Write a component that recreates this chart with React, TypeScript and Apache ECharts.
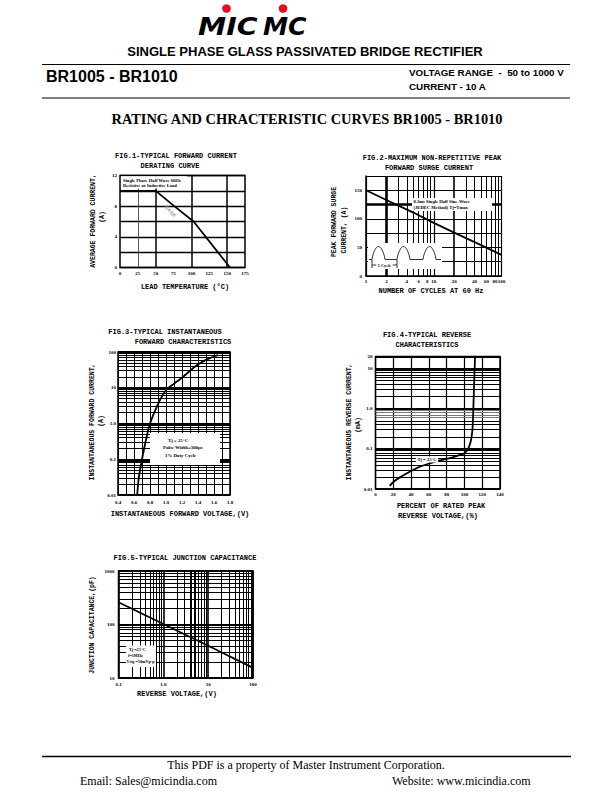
import React, { useEffect, useRef } from 'react';
import * as echarts from 'echarts';

// FIG.1 forward current derating
const fig1Temp = [0, 50, 76, 103, 154];
const fig1Current = [10, 10, 8, 6, 0];
const fig1GridX = [50, 100, 150];
// FIG.2 surge current
const fig2Cycles = [1, 2, 5, 10, 20, 50, 100];
const fig2Surge = [150, 133, 111, 93, 76, 54, 37];
const fig2Ticks = [1, 2, 4, 6, 8, 10, 20, 40, 60, 80, 100];
const fig2MinorX = [2, 3, 4, 5, 6, 7, 8, 9, 20, 30, 40, 50, 60, 70, 80, 90];
// FIG.3 forward characteristics
const fig3Voltage = [0.64, 0.66, 0.7, 0.75, 0.8, 0.9, 1.0, 1.1, 1.2, 1.3, 1.4, 1.5, 1.6, 1.65];
const fig3Current = [0.01, 0.03, 0.1, 0.35, 1, 3.5, 8.5, 13, 19, 30, 45, 60, 75, 82];
// FIG.4 reverse characteristics
const fig4Percent = [16, 20, 30, 40, 50, 60, 70, 80, 90, 100, 104, 107, 109, 110, 111, 112];
const fig4Current = [0.012, 0.015, 0.021, 0.028, 0.036, 0.043, 0.05, 0.056, 0.065, 0.078, 0.1, 0.15, 0.3, 1, 5, 20];
const fig4Ticks = [0.01, 0.1, 1, 10, 20];
// FIG.5 junction capacitance
const fig5Voltage = [0.1, 1, 10, 100];
const fig5Cap = [260, 102, 40, 15.5];

const minorSteps = [2, 3, 4, 5, 6, 7, 8, 9];
const fig3MinorY = [0.01, 0.1, 1, 10].flatMap((d) => minorSteps.map((m) => +(m * d).toPrecision(3)));
const fig4MinorY = [0.01, 0.1, 1].flatMap((d) => minorSteps.map((m) => +(m * d).toPrecision(3)));
const fig5MinorX = [0.1, 1, 10].flatMap((d) => minorSteps.map((m) => +(m * d).toPrecision(3)));
const fig5MinorY = [10, 100].flatMap((d) => minorSteps.map((m) => +(m * d).toPrecision(3)));

const MONO = '"Liberation Mono", monospace';
const SERIF = '"Liberation Serif", serif';
const SANS = '"Liberation Sans", sans-serif';

const zip = (a: number[], b: number[]) => a.map((v, i) => [v, b[i]]);

const logFmt = (v: number) => {
  if (Math.abs(v - 20) < 1e-6) return '20';
  const e = Math.round(Math.log10(v));
  if (e < 0) return v.toFixed(-e);
  if (e === 0) return '1.0';
  return String(Math.round(v));
};

const tickLabel = (margin: number, extra: any = {}) => ({
  show: true,
  fontSize: 5,
  fontWeight: 'bold',
  fontFamily: SERIF,
  color: '#000',
  margin,
  ...extra,
});

const T = (text: string, x: number, y: number, font: string, opt: any = {}) => ({
  type: 'text',
  x,
  y,
  rotation: opt.rot || 0,
  scaleX: opt.sx || 1,
  z: opt.z || 30,
  silent: true,
  style: {
    text,
    x: 0,
    y: 0,
    font,
    fill: opt.fill || '#000',
    textAlign: opt.align || 'center',
    align: opt.align || 'center',
    textVerticalAlign: 'middle',
    verticalAlign: 'middle',
    backgroundColor: opt.bg,
    padding: opt.bg ? [0.5, 1.5] : undefined,
  },
});

const R = (x: number, y: number, w: number, h: number) => ({
  type: 'rect',
  z: 20,
  silent: true,
  shape: { x, y, width: w, height: h },
  style: { fill: '#fff' },
});

const L = (x1: number, y1: number, x2: number, y2: number, w = 1.2, z = 30) => ({
  type: 'line',
  z,
  silent: true,
  shape: { x1, y1, x2, y2 },
  style: { stroke: '#000', lineWidth: w },
});

const gridSeries = (idx: number, items: any[]) => ({
  type: 'line',
  xAxisIndex: idx,
  yAxisIndex: idx,
  data: [],
  silent: true,
  z: 1,
  markLine: {
    silent: true,
    z: 1,
    symbol: ['none', 'none'],
    label: { show: false },
    emphasis: { disabled: true },
    animation: false,
    lineStyle: { color: '#000', type: 'solid', width: 1 },
    data: items,
  },
});

const curve = (idx: number, data: number[][], smooth: any = false) => ({
  type: 'line',
  xAxisIndex: idx,
  yAxisIndex: idx,
  data,
  smooth,
  symbol: 'none',
  showSymbol: false,
  silent: true,
  z: 10,
  lineStyle: { color: '#000', width: 1.8 },
});

const frame = { show: true, borderColor: '#000', borderWidth: 1.5, containLabel: false, outerBoundsMode: 'none' };
const noTick = { show: false };
const split = (w: number, color = '#000') => ({ show: true, lineStyle: { color, width: w, type: 'solid' } });

// inset waveform for FIG.2
const y0 = 259.5;
const hump = (a: number, b: number) =>
  Array.from({ length: 15 }, (_, i) => [a + ((b - a) * i) / 14, y0 - 13 * Math.pow(Math.sin((Math.PI * i) / 14), 0.7)]);
const wavePts = [[369, y0], ...hump(372, 385), ...hump(397, 410), ...hump(423, 436), [441, y0]];

const option: any = {
  animation: false,
  backgroundColor: '#fff',
  grid: [
    { left: 120, top: 175.5, width: 125, height: 92, ...frame },
    { left: 366, top: 176, width: 135.5, height: 100, show: false, containLabel: false, outerBoundsMode: 'none' },
    { left: 118, top: 352, width: 112, height: 143, ...frame },
    { left: 375.5, top: 356.5, width: 124.5, height: 132.5, ...frame },
    { left: 118.5, top: 571, width: 134.5, height: 107, ...frame },
  ],
  xAxis: [
    {
      gridIndex: 0, type: 'value', min: 0, max: 175, interval: 25,
      axisLine: { show: false }, axisTick: noTick, splitLine: { show: false },
      axisLabel: tickLabel(3),
    },
    {
      gridIndex: 1, type: 'log', logBase: 10, min: 1, max: 100,
      axisLine: { show: true, onZero: false, lineStyle: { color: '#000', width: 1.5 } },
      axisTick: noTick, splitLine: split(1.2),
      axisLabel: tickLabel(3, { customValues: fig2Ticks, formatter: (v: number) => String(Math.round(v)) }),
    },
    {
      gridIndex: 2, type: 'value', min: 0.4, max: 1.8, interval: 0.1,
      axisLine: { show: false }, axisTick: noTick, splitLine: split(1),
      axisLabel: tickLabel(5, {
        formatter: (v: number) => (Math.round(v * 10) % 2 === 0 ? v.toFixed(1) : ''),
      }),
    },
    {
      gridIndex: 3, type: 'value', min: 0, max: 140, interval: 20,
      axisLine: { show: false }, axisTick: noTick, splitLine: split(1.2),
      axisLabel: tickLabel(3),
    },
    {
      gridIndex: 4, type: 'log', logBase: 10, min: 0.1, max: 100,
      axisLine: { show: false }, axisTick: noTick, splitLine: split(1.6),
      axisLabel: tickLabel(4, { formatter: logFmt }),
    },
  ],
  yAxis: [
    {
      gridIndex: 0, type: 'value', min: 0, max: 12, interval: 2,
      axisLine: { show: false }, axisTick: noTick, splitLine: split(1.3),
      axisLabel: tickLabel(3, { formatter: (v: number) => (v % 4 === 0 ? String(v) : '') }),
    },
    {
      gridIndex: 1, type: 'value', min: 0, max: 175, interval: 25,
      axisLine: { show: true, onZero: false, lineStyle: { color: '#000', width: 1.5 } },
      axisTick: noTick, splitLine: split(1.2),
      axisLabel: tickLabel(4, { formatter: (v: number) => (v % 50 === 0 && v <= 150 ? String(v) : '') }),
    },
    {
      gridIndex: 2, type: 'log', logBase: 10, min: 0.01, max: 100,
      axisLine: { show: false }, axisTick: noTick, splitLine: split(2.2),
      axisLabel: tickLabel(2, { formatter: logFmt }),
    },
    {
      gridIndex: 3, type: 'log', logBase: 10, min: 0.01, max: 20,
      axisLine: { show: false }, axisTick: noTick, splitLine: split(2),
      axisLabel: tickLabel(3, { customValues: fig4Ticks, formatter: logFmt }),
    },
    {
      gridIndex: 4, type: 'log', logBase: 10, min: 10, max: 1000,
      axisLine: { show: false }, axisTick: noTick, splitLine: split(1.8),
      axisLabel: tickLabel(4, { formatter: logFmt }),
    },
  ],
  series: [
    gridSeries(0, [
      ...fig1GridX.map((v) => ({ xAxis: v, lineStyle: { width: 1.5 } })),
      { xAxis: 25, lineStyle: { width: 0.8, color: '#333' } },
    ]),
    gridSeries(1, [
      ...fig2MinorX.map((v) => ({ xAxis: v, lineStyle: { width: v === 2 ? 2.6 : v === 20 ? 1.6 : 1 } })),
      { yAxis: 125, lineStyle: { width: 2.6 } },
    ]),
    gridSeries(2, fig3MinorY.map((v) => ({ yAxis: v, lineStyle: { width: 1 } }))),
    gridSeries(3, fig4MinorY.map((v) => ({ yAxis: v, lineStyle: { width: 1, color: v >= 0.6 && v < 1 ? '#777' : '#000' } }))),
    gridSeries(4, [
      ...fig5MinorX.map((v) => ({ xAxis: v, lineStyle: { width: v === 4 || v === 5 ? 2 : 1 } })),
      ...fig5MinorY.map((v) => ({ yAxis: v, lineStyle: { width: 1 } })),
    ]),
    curve(0, zip(fig1Temp, fig1Current)),
    curve(1, zip(fig2Cycles, fig2Surge)),
    curve(2, zip(fig3Voltage, fig3Current), 0.3),
    curve(3, zip(fig4Percent, fig4Current), 0.3),
    curve(4, zip(fig5Voltage, fig5Cap)),
  ],
  graphic: {
    elements: [
      // Header
      { type: 'circle', z: 30, silent: true, shape: { cx: 226.5, cy: 8.5, r: 4.3 }, style: { fill: '#e3101a' } },
      { type: 'circle', z: 30, silent: true, shape: { cx: 283, cy: 8.5, r: 4.3 }, style: { fill: '#e3101a' } },
      T('MIC', 198, 27, 'italic 900 24px "DejaVu Sans", sans-serif', { align: 'left', sx: 1.18 }),
      T('MC', 263, 27, 'italic 900 24px "DejaVu Sans", sans-serif', { align: 'left', sx: 1.05 }),
      T('SINGLE PHASE GLASS PASSIVATED BRIDGE RECTIFIER', 305, 51, `bold 13px ${SANS}`),
      L(42, 64.5, 570, 64.5, 1.2),
      T('BR1005 - BR1010', 46, 76.5, `bold 16px ${SANS}`, { align: 'left' }),
      T('VOLTAGE RANGE  -  50 to 1000 V', 409, 72, `bold 9.8px ${SANS}`, { align: 'left' }),
      T('CURRENT - 10 A', 409, 86, `bold 9.8px ${SANS}`, { align: 'left' }),
      L(42, 98, 570, 98, 1.2),
      T('RATING AND CHRACTERISTIC CURVES BR1005 - BR1010', 307, 119, `bold 14.4px ${SERIF}`),

      // FIG.1
      T('FIG.1-TYPICAL FORWARD CURRENT', 176, 155.5, `bold 7px ${MONO}`),
      T('DERATING CURVE', 170, 165.5, `bold 7px ${MONO}`),
      T('AVERAGE FORWARD CURRENT,', 93.5, 221, `bold 6.5px ${MONO}`, { rot: Math.PI / 2 }),
      T('(A)', 102, 217, `bold 6.5px ${MONO}`, { rot: Math.PI / 2 }),
      T('LEAD TEMPERATURE (°C)', 185, 286.5, `bold 7px ${MONO}`),
      T('CASE', 170.5, 211, `bold 5px ${SANS}`, { rot: -0.85, fill: '#999' }),
      R(121, 176.3, 66, 12.3),
      T('Single Phase Half Wave 60Hz', 123, 180.5, `bold 4.6px ${SERIF}`, { align: 'left' }),
      T('Resistive or Inductive Load', 123, 185.5, `bold 4.6px ${SERIF}`, { align: 'left' }),

      // FIG.2
      T('FIG.2-MAXIMUM NON-REPETITIVE PEAK', 432, 158, `bold 7px ${MONO}`),
      T('FORWARD SURGE CURRENT', 429, 167.5, `bold 7px ${MONO}`),
      T('PEAK FORWARD SURGE', 334, 222, `bold 6.5px ${MONO}`, { rot: Math.PI / 2 }),
      T('CURRENT, (A)', 344, 230, `bold 6.5px ${MONO}`, { rot: Math.PI / 2 }),
      T('NUMBER OF CYCLES AT 60 Hz', 431, 291, `bold 7px ${MONO}`),
      R(412, 198, 80, 13),
      T('8.3ms Single Half Sine-Wave', 413.5, 201.8, `bold 4.6px ${SERIF}`, { align: 'left' }),
      T('(JEDEC Method) Tj=Tmax', 413.5, 207.5, `bold 4.6px ${SERIF}`, { align: 'left' }),
      R(368, 243, 74, 26),
      { type: 'polyline', z: 30, silent: true, shape: { points: wavePts }, style: { stroke: '#000', lineWidth: 0.8, fill: 'none' } },
      L(372, 259.5, 372, 268, 0.8),
      L(397, 259.5, 397, 268, 0.8),
      L(372, 265, 397, 265, 0.8),
      T('1 Cycle', 384.5, 265, `bold 4.3px ${SERIF}`, { bg: '#fff', z: 31 }),

      // FIG.3
      T('FIG.3-TYPICAL INSTANTANEOUS', 165, 331.5, `bold 7px ${MONO}`),
      T('FORWARD CHARACTERISTICS', 183, 341.7, `bold 7px ${MONO}`),
      T('INSTANTANEOUS FORWARD CURRENT,', 92, 422, `bold 6.5px ${MONO}`, { rot: Math.PI / 2 }),
      T('(A)', 101, 421, `bold 6.5px ${MONO}`, { rot: Math.PI / 2 }),
      T('INSTANTANEOUS FORWARD VOLTAGE,(V)', 180, 513.5, `bold 7px ${MONO}`),
      R(150, 433, 70, 32),
      T('Tj = 25°C', 168, 440, `bold 4.8px ${SERIF}`, { align: 'left' }),
      T('Pulse Width=300μs', 163, 447.5, `bold 4.8px ${SERIF}`, { align: 'left' }),
      T('1% Duty Cycle', 165, 455, `bold 4.8px ${SERIF}`, { align: 'left' }),

      // FIG.4
      T('FIG.4-TYPICAL REVERSE', 427, 335, `bold 7px ${MONO}`),
      T('CHARACTERISTICS', 427, 345, `bold 7px ${MONO}`),
      T('INSTANTANEOUS REVERSE CURRENT,', 349.5, 422, `bold 6.5px ${MONO}`, { rot: Math.PI / 2 }),
      T('(mA)', 358.5, 425, `bold 6.5px ${MONO}`, { rot: Math.PI / 2 }),
      T('PERCENT OF RATED PEAK', 441, 506, `bold 7px ${MONO}`),
      T('REVERSE VOLTAGE,(%)', 438, 516, `bold 7px ${MONO}`),
      T('Tj = 25°C', 427, 459.5, `bold 4.6px ${SERIF}`, { bg: '#fff' }),

      // FIG.5
      T('FIG.5-TYPICAL JUNCTION CAPACITANCE', 185, 558, `bold 7px ${MONO}`),
      T('JUNCTION CAPACITANCE,(pF)', 92, 625, `bold 6.5px ${MONO}`, { rot: Math.PI / 2 }),
      T('REVERSE VOLTAGE,(V)', 177, 694, `bold 7px ${MONO}`),
      R(126, 645.5, 30, 21.5),
      T('Tj =25°C', 129, 649.7, `bold 4.2px ${SERIF}`, { align: 'left' }),
      T('f=1MHz', 128, 655.2, `bold 4.2px ${SERIF}`, { align: 'left' }),
      T('Vsig =50mVp-p', 126.5, 661.5, `bold 4.2px ${SERIF}`, { align: 'left' }),

      // Footer
      L(42, 756.5, 571, 756.5, 1.6),
      T('This PDF is a property of Master Instrument Corporation.', 306, 765, `12px ${SERIF}`),
      T('Email: Sales@micindia.com', 80, 781, `12px ${SERIF}`, { align: 'left' }),
      T('Website: www.micindia.com', 392, 781, `12px ${SERIF}`, { align: 'left' }),
    ],
  },
};

export default function App() {
  const ref = useRef<HTMLDivElement>(null);
  useEffect(() => {
    if (!ref.current) return;
    const chart = echarts.init(ref.current, null, { renderer: 'svg', width: 612, height: 792 });
    chart.setOption(option);
    return () => chart.dispose();
  }, []);
  return (
    <div
      ref={ref}
      style={{ position: 'absolute', left: 0, top: 0, width: 612, height: 792, background: '#fff' }}
    />
  );
}
